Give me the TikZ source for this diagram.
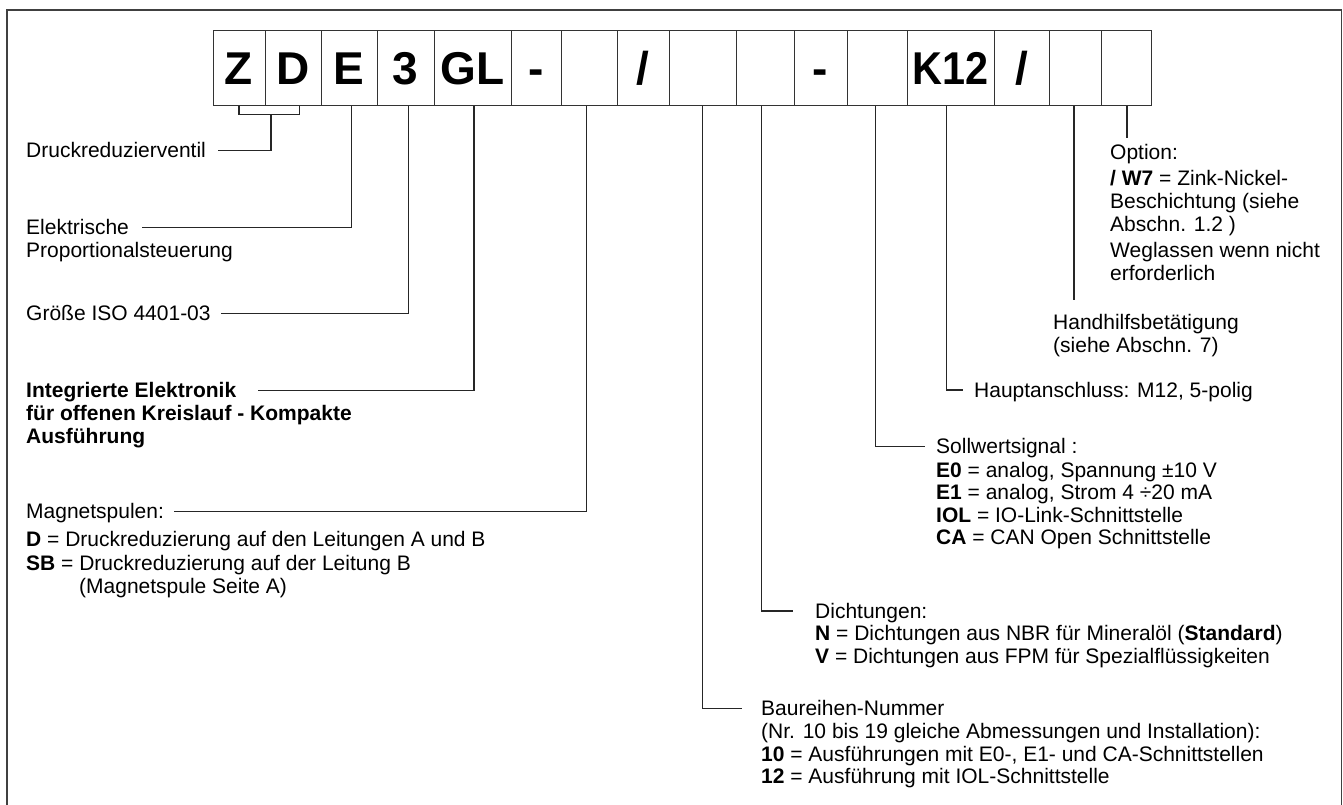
\documentclass[tikz,border=0pt]{standalone}
\usepackage{fontspec}
\setmainfont{Liberation Sans}
\begin{document}
\begin{tikzpicture}[x=1pt,y=-1pt,
  frame/.style={draw=black!75,line width=1.5pt},
  cell/.style={draw=black!80,line width=1pt,minimum height=75pt,inner sep=0pt,
    text height=33pt,text depth=0pt,font=\fontsize{46}{46}\selectfont\bfseries},
  lbl/.style={anchor=base west,yshift=-7pt,inner sep=0pt,font=\fontsize{21}{23}\selectfont},
  blbl/.style={lbl,font=\fontsize{21}{23}\selectfont\bfseries},
  lead/.style={draw=black!85,line width=1.1pt}]
\useasboundingbox (0,0) rectangle (1343,805);
\draw[frame] (7,806) -- (7,10) -- (1341.5,10) -- (1341.5,806);

% code boxes
\node[cell,minimum width=52pt] (b1) at (239,68.5) {Z};
\node[cell,minimum width=56pt] (b2) at (293,68.5) {D};
\node[cell,minimum width=56pt] (b3) at (349,68.5) {E};
\node[cell,minimum width=57pt] (b4) at (405.5,68.5) {3};
\node[cell,minimum width=77pt] (b5) at (472.5,68.5) {GL};
\node[cell,minimum width=50pt] (b6) at (536,68.5) {-};
\node[cell,minimum width=56pt] (b7) at (589,68.5) {};
\node[cell,minimum width=52pt] (b8) at (643,68.5) {/};
\node[cell,minimum width=67pt] (b9) at (702.5,68.5) {};
\node[cell,minimum width=58pt] (b10) at (765,68.5) {};
\node[cell,minimum width=53pt] (b11) at (820.5,68.5) {-};
\node[cell,minimum width=60pt] (b12) at (877,68.5) {};
\node[cell,minimum width=87pt] (b13) at (950.5,68.5) {\scalebox{0.9}[1]{K12}};
\node[cell,minimum width=55pt] (b14) at (1021.5,68.5) {/};
\node[cell,minimum width=52pt] (b15) at (1075,68.5) {};
\node[cell,minimum width=50pt] (b16) at (1126,68.5) {};

% left labels
\node[lbl] (drv) at (26,150.7) {Druckreduzierventil};
\node[lbl] (ele) at (26,227.7) {Elektrische};
\node[lbl] (ele2) at (26,250.7) {Proportionalsteuerung};
\node[lbl] (gr) at (26,313.3) {Größe ISO 4401-03};
\node[blbl] (ie) at (26,390.7) {Integrierte Elektronik};
\node[blbl] (ie2) at (26,413.7) {für offenen Kreislauf - Kompakte};
\node[blbl] (ie3) at (26,436.7) {Ausführung};
\node[lbl] (mag) at (26,511.7) {Magnetspulen:};
\node[lbl] (magD) at (26,539.5) {\textbf{D} = Druckreduzierung auf den Leitungen A und B};
\node[lbl] (magS) at (26,563.5) {\textbf{SB} = Druckreduzierung auf der Leitung B};
\node[lbl] (magS2) at (79,586.5) {(Magnetspule Seite A)};

% right labels
\node[lbl] (opt) at (1110,153) {Option:};
\node[lbl] (opt2) at (1110,178.5) {\textbf{/ W7} = Zink-Nickel-};
\node[lbl] (opt3) at (1110,201.5) {Beschichtung (siehe};
\node[lbl] (opt4) at (1110,224.5) {Abschn. 1.2 )};
\node[lbl] (opt5) at (1110,250) {Weglassen wenn nicht};
\node[lbl] (opt6) at (1110,273) {erforderlich};
\node[lbl] (hh) at (1053,322) {Handhilfsbetätigung};
\node[lbl] (hh2) at (1053,345) {(siehe Abschn. 7)};
\node[lbl] (ha) at (974,390) {Hauptanschluss: M12, 5-polig};
\node[lbl] (sw) at (936,446.7) {Sollwertsignal :};
\node[lbl] (sw2) at (936,470) {\textbf{E0} = analog, Spannung ±10 V};
\node[lbl] (sw3) at (936,492.5) {\textbf{E1} = analog, Strom 4 ÷20 mA};
\node[lbl] (sw4) at (936,515) {\textbf{IOL} = IO-Link-Schnittstelle};
\node[lbl] (sw5) at (936,537.5) {\textbf{CA} = CAN Open Schnittstelle};
\node[lbl] (di) at (815,611) {Dichtungen:};
\node[lbl] (di2) at (815,633.5) {\textbf{N} = Dichtungen aus NBR für Mineralöl (\textbf{Standard})};
\node[lbl] (di3) at (815,656) {\textbf{V} = Dichtungen aus FPM für Spezialflüssigkeiten};
\node[lbl] (br) at (761,708.3) {Baureihen-Nummer};
\node[lbl] (br2) at (761,731) {(Nr. 10 bis 19 gleiche Abmessungen und Installation):};
\node[lbl] (br3) at (761,754) {\textbf{10} = Ausführungen mit E0-, E1- und CA-Schnittstellen};
\node[lbl] (br4) at (761,776.5) {\textbf{12} = Ausführung mit IOL-Schnittstelle};

% connectors
\coordinate (brk) at (271,114.3);
\draw[lead] (b1.south) |- (brk) -| ([xshift=6.3pt]b2.south);
\draw[lead] (brk) |- ([xshift=12pt,yshift=7pt]drv.base east);
\draw[lead] ([xshift=2.7pt]b3.south) |- ([xshift=13pt,yshift=7pt]ele.base east);
\draw[lead] ([xshift=2.8pt]b4.south) |- ([xshift=10pt,yshift=7pt]gr.base east);
\draw[lead] ([xshift=1.5pt]b5.south) |- ([xshift=22pt,yshift=7pt]ie.base east);
\draw[lead] ([xshift=-2.3pt]b7.south) |- ([xshift=10pt,yshift=7pt]mag.base east);
\draw[lead] ([xshift=0.2pt]b9.south) |- ([xshift=-19pt,yshift=7pt]br.base west);
\draw[lead] ([xshift=-3.3pt]b10.south) |- ([xshift=-22pt,yshift=7pt]di.base west);
\draw[lead] ([xshift=-1.3pt]b12.south) |- ([xshift=-10.7pt,yshift=7pt]sw.base west);
\draw[lead] ([xshift=-3.8pt]b13.south) |- ([xshift=-11pt,yshift=7pt]ha.base west);
\coordinate (hhend) at (1074,300);
\draw[lead] (b15.south -| hhend) -- (hhend);
\coordinate (optend) at (1127,138);
\draw[lead] (b16.south -| optend) -- (optend);
\end{tikzpicture}
\end{document}
